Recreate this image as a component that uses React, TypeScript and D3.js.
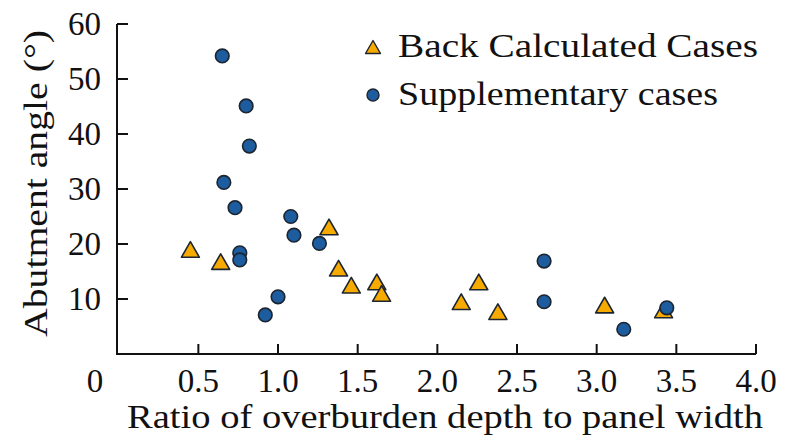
import React from "react";
import * as d3 from "d3";

// Back-calculated cases: ratio of overburden depth to panel width vs abutment angle
const backRatio = [0.45, 0.64, 1.32, 1.38, 1.46, 1.62, 1.65, 2.15, 2.26, 2.38, 3.05, 3.42];
const backAngle = [19.0, 16.8, 23.1, 15.6, 12.5, 13.1, 11.0, 9.5, 13.1, 7.7, 8.9, 8.0];

// Supplementary cases
const suppRatio = [0.65, 0.8, 0.82, 0.66, 0.73, 0.76, 0.76, 1.08, 1.1, 1.26, 1.0, 0.92, 2.67, 2.67, 3.17, 3.44];
const suppAngle = [54.2, 45.1, 37.8, 31.2, 26.6, 18.4, 17.1, 25.0, 21.6, 20.1, 10.4, 7.1, 16.9, 9.5, 4.5, 8.4];

const xTicks = [0.5, 1.0, 1.5, 2.0, 2.5, 3.0, 3.5, 4.0];
const yTicks = [10, 20, 30, 40, 50, 60];

const legendLabels = ["Back Calculated Cases", "Supplementary cases"];

const W = 788;
const H = 443;
const FONT = "Liberation Serif, Tinos, Times New Roman, Times, serif";
const ORANGE = "#f7aa00";
const BLUE = "#1d5c9e";
const EDGE = "#1c2530";

const txt = (size: number): React.CSSProperties => ({ fontFamily: FONT, fontSize: size });

// Triangle path whose bounding box is centered on the origin
function triPath(side: number): string {
  const h = (side * Math.sqrt(3)) / 2;
  return `M0,${-h / 2}L${side / 2},${h / 2}L${-side / 2},${h / 2}Z`;
}

export default function App() {
  const x = d3.scaleLinear().domain([0, 4]).range([118.7, 756]);
  const y = d3.scaleLinear().domain([0, 60]).range([354, 24]);
  const x0 = 117;
  const y0 = y(0);

  const back = backRatio.map((r, i) => ({ r, a: backAngle[i] }));
  const supp = suppRatio.map((r, i) => ({ r, a: suppAngle[i] }));

  return (
    <svg width={W} height={H} style={{ position: "absolute", left: 0, top: 0, background: "#fff" }}>
      <rect width={W} height={H} fill="#fff" />
      {/* axes */}
      <path d={`M${x0},${y(60)}V${y0}H${x(4)}`} fill="none" stroke="#111" strokeWidth={2} />
      {yTicks.map((t) => (
        <g key={"y" + t}>
          <line x1={x0} x2={x0 + 11} y1={y(t)} y2={y(t)} stroke="#111" strokeWidth={2} />
          <text x={101} y={y(t) + 11} textAnchor="end" style={txt(33)} fill="#111">
            {t}
          </text>
        </g>
      ))}
      {xTicks.map((t) => (
        <g key={"x" + t}>
          <line x1={x(t)} x2={x(t)} y1={y0} y2={y0 - 10} stroke="#111" strokeWidth={2} />
          <text x={x(t)} y={392} textAnchor="middle" style={txt(33)} fill="#111">
            {d3.format(".1f")(t)}
          </text>
        </g>
      ))}
      <text x={95} y={392} textAnchor="middle" style={txt(33)} fill="#111">
        0
      </text>

      {/* axis titles */}
      <text x={127} y={428} style={txt(34)} fill="#111" textLength={636} lengthAdjust="spacingAndGlyphs">
        Ratio of overburden depth to panel width
      </text>
      <text
        transform={`translate(47,337) rotate(-90)`}
        style={txt(34)}
        fill="#111"
        textLength={307}
        lengthAdjust="spacingAndGlyphs"
      >
        Abutment angle (°)
      </text>

      {/* marks */}
      {back.map((d, i) => (
        <path
          key={"b" + i}
          d={triPath(18)}
          transform={`translate(${x(d.r)},${y(d.a)})`}
          fill={ORANGE}
          stroke={EDGE}
          strokeWidth={1.6}
          strokeLinejoin="round"
        />
      ))}
      {supp.map((d, i) => (
        <circle key={"s" + i} cx={x(d.r)} cy={y(d.a)} r={6.8} fill={BLUE} stroke={EDGE} strokeWidth={1.6} />
      ))}

      {/* legend */}
      <path d={triPath(15)} transform="translate(373,47)" fill={ORANGE} stroke={EDGE} strokeWidth={1.4} strokeLinejoin="round" />
      <text x={398} y={57} style={txt(34)} fill="#111" textLength={360} lengthAdjust="spacingAndGlyphs">
        {legendLabels[0]}
      </text>
      <circle cx={373} cy={95} r={6} fill={BLUE} stroke={EDGE} strokeWidth={1.4} />
      <text x={398} y={105} style={txt(34)} fill="#111" textLength={320} lengthAdjust="spacingAndGlyphs">
        {legendLabels[1]}
      </text>
    </svg>
  );
}
